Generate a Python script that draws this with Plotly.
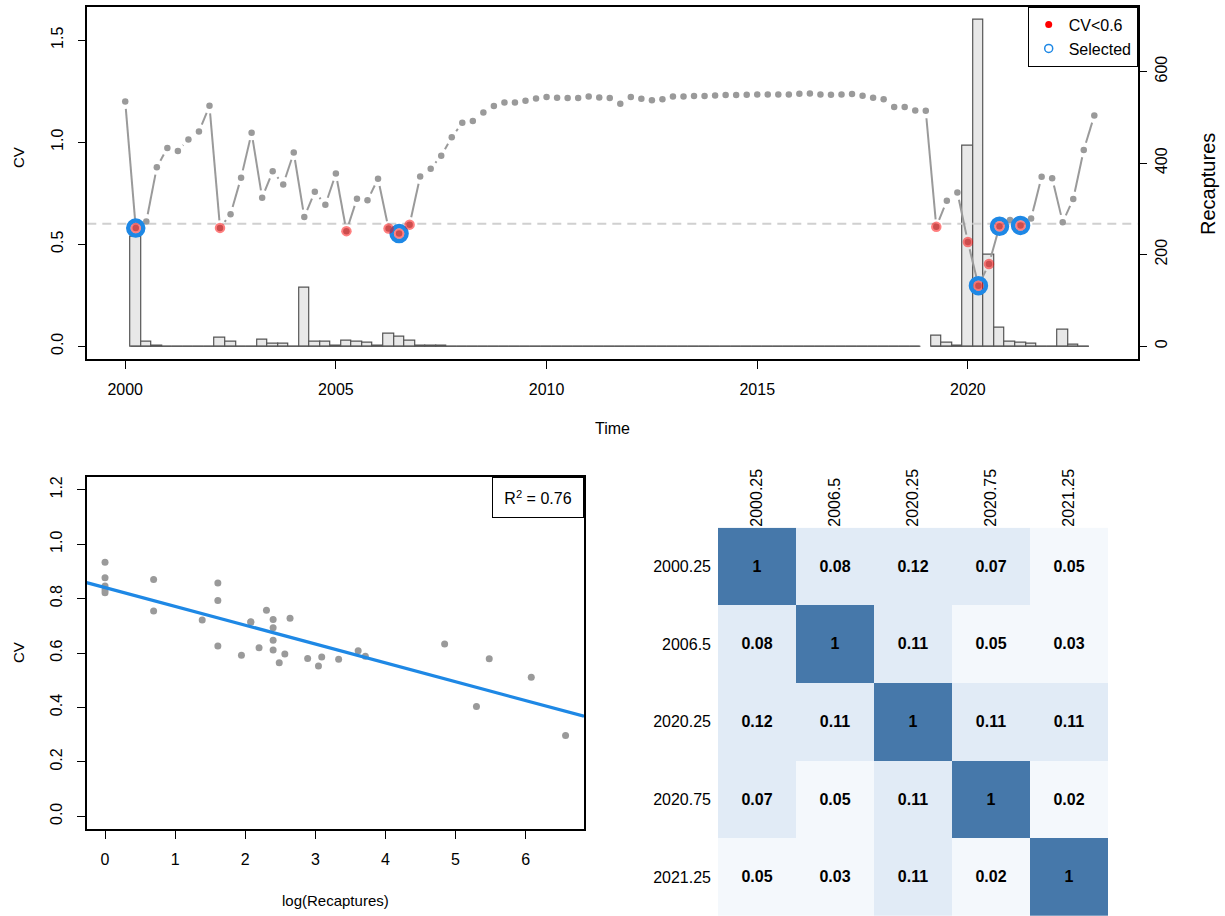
import numpy as np
import plotly.graph_objects as go

# ---------------- data ----------------
times = [
    2000.0, 2000.25, 2000.5, 2000.75, 2001.0, 2001.25, 2001.5, 2001.75,
    2002.0, 2002.25, 2002.5, 2002.75, 2003.0, 2003.25, 2003.5, 2003.75,
    2004.0, 2004.25, 2004.5, 2004.75, 2005.0, 2005.25, 2005.5, 2005.75,
    2006.0, 2006.25, 2006.5, 2006.75, 2007.0, 2007.25, 2007.5, 2007.75,
    2008.0, 2008.25, 2008.5, 2008.75, 2009.0, 2009.25, 2009.5, 2009.75,
    2010.0, 2010.25, 2010.5, 2010.75, 2011.0, 2011.25, 2011.5, 2011.75,
    2012.0, 2012.25, 2012.5, 2012.75, 2013.0, 2013.25, 2013.5, 2013.75,
    2014.0, 2014.25, 2014.5, 2014.75, 2015.0, 2015.25, 2015.5, 2015.75,
    2016.0, 2016.25, 2016.5, 2016.75, 2017.0, 2017.25, 2017.5, 2017.75,
    2018.0, 2018.25, 2018.5, 2018.75, 2019.0, 2019.25, 2019.5, 2019.75,
    2020.0, 2020.25, 2020.5, 2020.75, 2021.0, 2021.25, 2021.5, 2021.75,
    2022.0, 2022.25, 2022.5, 2022.75, 2023.0,
]

cv = [
    1.200, 0.579, 0.611, 0.877, 0.972, 0.957, 1.013, 1.052,
    1.178, 0.580, 0.647, 0.826, 1.046, 0.728, 0.857, 0.793,
    0.949, 0.633, 0.757, 0.693, 0.846, 0.564, 0.723, 0.715,
    0.821, 0.577, 0.552, 0.596, 0.832, 0.870, 0.934, 1.024,
    1.095, 1.104, 1.145, 1.177, 1.195, 1.195, 1.203, 1.214,
    1.221, 1.218, 1.216, 1.216, 1.224, 1.219, 1.216, 1.188,
    1.221, 1.213, 1.206, 1.211, 1.224, 1.224, 1.226, 1.226,
    1.229, 1.231, 1.231, 1.232, 1.234, 1.234, 1.234, 1.234,
    1.237, 1.239, 1.234, 1.232, 1.234, 1.236, 1.228, 1.218,
    1.211, 1.172, 1.173, 1.155, 1.154, 0.585, 0.713, 0.754,
    0.511, 0.297, 0.403, 0.588, 0.619, 0.592, 0.626, 0.831,
    0.823, 0.608, 0.721, 0.962, 1.131,
]

recaptures = [
    None, 240, 11, 1, 0, 0, 0, 0,
    0, 18, 11, 0, 0, 14, 5, 5,
    0, 127, 10, 11, 1, 12, 11, 8,
    1, 28, 21, 13, 1, 2, 1, 0,
    0, 0, 0, 0, 0, 0, 0, 0,
    0, 0, 0, 0, 0, 0, 0, 0,
    0, 0, 0, 0, 0, 0, 0, 0,
    0, 0, 0, 0, 0, 0, 0, 0,
    0, 0, 0, 0, 0, 0, 0, 0,
    0, 0, 0, 0, None, 22, 8, 2,
    437, 713, 200, 41, 9, 7, 5, 0,
    0, 37, 4, 0, None,
]

selected = [2000.25, 2006.5, 2020.25, 2020.75, 2021.25]
cv_threshold = 0.6
r2_label = "0.76"

corr_labels = ["2000.25", "2006.5", "2020.25", "2020.75", "2021.25"]
corr_values = [
    [1, 0.08, 0.12, 0.07, 0.05],
    [0.08, 1, 0.11, 0.05, 0.03],
    [0.12, 0.11, 1, 0.11, 0.11],
    [0.07, 0.05, 0.11, 1, 0.02],
    [0.05, 0.03, 0.11, 0.02, 1],
]

# ---------------- layout geometry ----------------
FW, FH = 1225, 916
FONT = "Liberation Sans, Arial, Helvetica, sans-serif"
BLUE = "#1E88E5"

def dx(px):
    return px / FW

def dy(py):
    return 1 - py / FH

# top panel plot area (pixels)
TL, TR, TT, TB = 87.3, 1137.7, 6.7, 359.3
# scatter plot area
SL, SR, ST, SB = 86.6, 584.0, 476.7, 829.3
# heatmap area
HL, HR, HT, HB = 718.0, 1108.0, 527.7, 916.0

x_range_top = [1999.1, 2024.03]
cv_lim = [0.0, 1.6]
cv_range = [cv_lim[0] - 0.04 * (cv_lim[1] - cv_lim[0]), cv_lim[1] + 0.04 * (cv_lim[1] - cv_lim[0])]
rmax = max(r for r in recaptures if r is not None)
rec_range = [-0.04 * rmax, 1.04 * rmax]

t_arr = np.array(times)
cv_arr = np.array(cv)

# R "type = b" style: segments with gaps around points
W_pix, H_pix = TR - TL, TB - TT
gap = 7.5
seg_x, seg_y = [], []
for i in range(len(times) - 1):
    x0 = (times[i] - x_range_top[0]) / (x_range_top[1] - x_range_top[0]) * W_pix
    x1 = (times[i + 1] - x_range_top[0]) / (x_range_top[1] - x_range_top[0]) * W_pix
    y0 = (cv[i] - cv_range[0]) / (cv_range[1] - cv_range[0]) * H_pix
    y1 = (cv[i + 1] - cv_range[0]) / (cv_range[1] - cv_range[0]) * H_pix
    d = np.hypot(x1 - x0, y1 - y0)
    if d > 2 * gap:
        f = gap / d
        tdiff = times[i + 1] - times[i]
        vdiff = cv[i + 1] - cv[i]
        seg_x += [times[i] + tdiff * f, times[i + 1] - tdiff * f, None]
        seg_y += [cv[i] + vdiff * f, cv[i + 1] - vdiff * f, None]

# baseline for bar runs (zero-height bars drawn as a line in R)
base_x, base_y = [], []
run_start = None
for i, r in enumerate(recaptures):
    if r is not None and run_start is None:
        run_start = i
    if (r is None or i == len(recaptures) - 1) and run_start is not None:
        end = i - 1 if r is None else i
        base_x += [times[run_start] - 0.125, times[end] + 0.125, None]
        base_y += [0, 0, None]
        run_start = None

low_mask = cv_arr < cv_threshold
sel_mask = np.isin(t_arr, selected)

fig = go.Figure()

# bars (base axis y = Recaptures, right side)
fig.add_trace(go.Bar(
    x=times, y=recaptures, width=0.25, xaxis="x", yaxis="y",
    marker=dict(color="#E8E8E8", line=dict(color="#555555", width=1.2)),
    showlegend=False, hoverinfo="skip",
))
fig.add_trace(go.Scatter(
    x=base_x, y=base_y, mode="lines", xaxis="x", yaxis="y",
    line=dict(color="#555555", width=1.2), showlegend=False, hoverinfo="skip",
))

# threshold line on CV axis
fig.add_trace(go.Scatter(
    x=x_range_top, y=[cv_threshold, cv_threshold], mode="lines", xaxis="x", yaxis="y2",
    line=dict(color="#D0D0D0", width=2, dash="9px,6px"), showlegend=False, hoverinfo="skip",
))
# CV line with gaps
fig.add_trace(go.Scatter(
    x=seg_x, y=seg_y, mode="lines", xaxis="x", yaxis="y2",
    line=dict(color="#9A9A9A", width=2), showlegend=False, hoverinfo="skip",
))
fig.add_trace(go.Scatter(
    x=times, y=cv, mode="markers", xaxis="x", yaxis="y2",
    marker=dict(color="#9A9A9A", size=6.5), showlegend=False,
))
fig.add_trace(go.Scatter(
    x=t_arr[sel_mask], y=cv_arr[sel_mask], mode="markers", xaxis="x", yaxis="y2",
    marker=dict(symbol="circle-open", size=15, color=BLUE, line=dict(color=BLUE, width=4.5)),
    showlegend=False,
))
fig.add_trace(go.Scatter(
    x=t_arr[low_mask], y=cv_arr[low_mask], mode="markers", xaxis="x", yaxis="y2",
    marker=dict(color="rgba(255,0,0,0.5)", size=10.5), showlegend=False,
))
# legend entries
fig.add_trace(go.Scatter(
    x=[None], y=[None], mode="markers", name="CV<0.6", xaxis="x", yaxis="y2",
    marker=dict(color="#FF0000", size=7),
))
fig.add_trace(go.Scatter(
    x=[None], y=[None], mode="markers", name="Selected", xaxis="x", yaxis="y2",
    marker=dict(symbol="circle-open", size=8, color=BLUE, line=dict(color=BLUE, width=1.5)),
))

# ---------------- scatter: CV vs log(Recaptures) ----------------
rec_arr = np.array([np.nan if r is None else r for r in recaptures], dtype=float)
pos = rec_arr > 0
log_rec = np.log(rec_arr[pos])
cv_pos = cv_arr[pos]
slope, intercept = np.polyfit(log_rec, cv_pos, 1)

sx_range = [0 - 0.04 * log_rec.max(), log_rec.max() * 1.04]
sy_range = [-0.048, 1.248]

fig.add_trace(go.Scatter(
    x=log_rec, y=cv_pos, mode="markers", xaxis="x2", yaxis="y3",
    marker=dict(color="#9A9A9A", size=7), showlegend=False,
))
line_x = np.array(sx_range)
fig.add_trace(go.Scatter(
    x=line_x, y=intercept + slope * line_x, mode="lines", xaxis="x2", yaxis="y3",
    line=dict(color=BLUE, width=3.3), showlegend=False,
))

# ---------------- heatmap ----------------
text_vals = [[("%g" % v) for v in row] for row in corr_values]
fig.add_trace(go.Heatmap(
    z=corr_values, x=corr_labels, y=corr_labels, xaxis="x3", yaxis="y4",
    text=text_vals, texttemplate="%{text}",
    textfont=dict(family=FONT, size=16, color="black", weight="bold"),
    zmin=0, zmax=1, showscale=False, xgap=0, ygap=0,
    colorscale=[[0, "#F4F8FC"], [0.06, "#F4F8FC"], [0.06, "#E1EBF6"], [0.5, "#E1EBF6"],
                [0.5, "#4678AA"], [1, "#4678AA"]],
))

axis_common = dict(showgrid=False, zeroline=False, ticks="outside", ticklen=8, tickwidth=1,
                   tickcolor="black", linecolor="black", tickfont=dict(size=16, color="black"))

fig.update_layout(
    width=FW, height=FH,
    margin=dict(l=0, r=0, t=0, b=0),
    paper_bgcolor="white", plot_bgcolor="white",
    font=dict(family=FONT, size=16, color="black"),
    bargap=0,
    showlegend=True,
    legend=dict(x=dx(TR), y=dy(TT), xanchor="right", yanchor="top",
                bordercolor="black", borderwidth=1, bgcolor="white",
                font=dict(size=16), itemwidth=30, tracegroupgap=0),
    xaxis=dict(domain=[dx(TL), dx(TR)], range=x_range_top, anchor="y",
               tickvals=[2000, 2005, 2010, 2015, 2020], showline=True, mirror=True,
               linewidth=1.5, ticklabelstandoff=7, **axis_common),
    yaxis=dict(domain=[dy(TB), dy(TT)], range=rec_range, anchor="x", side="right",
               tickvals=[0, 200, 400, 600], tickangle=-90, showline=True, mirror=True,
               linewidth=1.5, **axis_common),
    yaxis2=dict(domain=[dy(TB), dy(TT)], range=cv_range, anchor="x", side="left",
                overlaying="y", tickvals=[0, 0.5, 1.0, 1.5], tickformat=".1f",
                tickangle=-90, showline=False, ticklabelstandoff=9, **axis_common),
    xaxis2=dict(domain=[dx(SL), dx(SR)], range=sx_range, anchor="y3",
                tickvals=[0, 1, 2, 3, 4, 5, 6], showline=True, mirror=True,
                linewidth=1.5, ticklabelstandoff=7, **axis_common),
    yaxis3=dict(domain=[dy(SB), dy(ST)], range=sy_range, anchor="x2",
                tickvals=[0, 0.2, 0.4, 0.6, 0.8, 1.0, 1.2], tickformat=".1f",
                tickangle=-90, showline=True, mirror=True, linewidth=1.5,
                ticklabelstandoff=8, **axis_common),
    xaxis3=dict(domain=[dx(HL), dx(HR)], anchor="y4", side="top", tickangle=-90,
                showgrid=False, zeroline=False, showline=False, ticks="",
                tickfont=dict(size=16, color="black")),
    yaxis4=dict(domain=[dy(HB), dy(HT)], anchor="x3", autorange="reversed",
                showgrid=False, zeroline=False, showline=False, ticks="",
                ticklabelstandoff=6, tickfont=dict(size=16, color="black")),
)

ctr = dict(xref="paper", yref="paper", showarrow=False, xanchor="center", yanchor="middle")
ann = [
    dict(text="Time", x=dx(612), y=dy(428), font=dict(size=16), **ctr),
    dict(text="CV", x=dx(18), y=dy(158), textangle=-90, font=dict(size=15), **ctr),
    dict(text="Recaptures", x=dx(1208), y=dy(184), textangle=-90, font=dict(size=20), **ctr),
    dict(text="log(Recaptures)", x=dx(335), y=dy(900), font=dict(size=15), **ctr),
    dict(text="CV", x=dx(18), y=dy(653), textangle=-90, font=dict(size=15), **ctr),
    dict(text="R<sup>2</sup> = " + r2_label, x=dx(SR), y=dy(ST), xref="paper", yref="paper",
         xanchor="right", yanchor="top", showarrow=False, font=dict(size=16),
         bordercolor="black", borderwidth=1, bgcolor="white", width=88, height=37),
]
fig.update_layout(annotations=ann)

fig.write_html("out.html")
